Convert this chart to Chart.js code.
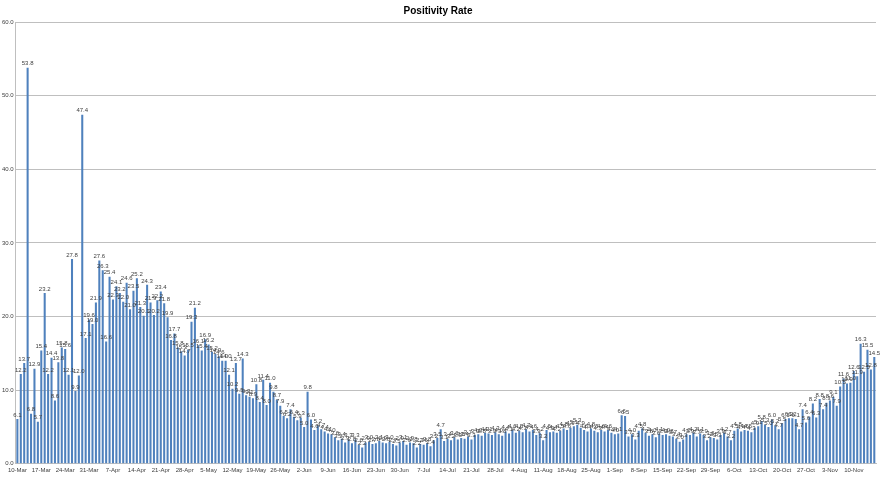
<!DOCTYPE html>
<html>
<head>
<meta charset="utf-8">
<title>Positivity Rate</title>
<script src="https://cdn.jsdelivr.net/npm/chart.js@4/dist/chart.umd.min.js"></script>
<style>
  html, body { margin: 0; padding: 0; background: #fff; }
  #wrap { width: 880px; height: 477px; position: relative; }
</style>
</head>
<body>
<div id="wrap"><canvas id="posChart"></canvas></div>
<script>
// daily positivity rate (%), starting 10-Mar
const startDate = [2020, 2, 10];
const monthNames = ['Jan','Feb','Mar','Apr','May','Jun','Jul','Aug','Sep','Oct','Nov','Dec'];

const marchApril = [6.1, 12.2, 13.7, 53.8, 6.8, 12.9, 5.7, 15.4, 23.2, 12.2, 14.4, 8.6, 13.8, 15.8, 15.6, 12.1, 27.8, 9.9, 12.0, 47.4, 17.1,
  19.6, 19.0, 21.9, 27.6, 26.3, 16.6, 25.4, 22.3, 24.1, 23.2, 22.0, 24.6, 21.0, 23.5, 25.2, 21.3, 20.1, 24.3,
  21.9, 20.2, 22.2, 23.4, 21.8, 19.9, 16.8, 17.7, 15.8, 15.3, 14.7, 15.5, 19.3, 21.2];
const mayJune = [16.1, 15.4, 16.9, 16.2, 15.2, 14.9, 14.6,
  14.0, 14.0, 12.1, 10.2, 13.7, 9.5, 14.3, 9.3, 9.1, 8.9, 10.8, 8.4, 11.4, 8.0, 11.0, 9.8, 8.7, 7.9, 6.5, 6.2, 7.4, 6.4, 5.9, 6.3, 5.0, 9.8,
  6.0, 4.6, 5.2, 4.7, 4.4, 4.1, 4.0, 3.6, 3.2, 3.4, 2.9, 3.3, 2.8, 3.3,
  2.6, 2.2, 2.9, 3.0, 2.7, 2.8, 3.1, 2.9, 2.8, 3.0, 2.7, 2.5, 2.9, 3.1];
const julyAugust = [2.6, 2.9, 2.8, 2.2, 2.7, 2.6, 2.8, 2.4, 3.2, 3.5,
  4.7, 3.1, 3.4, 3.2, 3.6, 3.3, 3.5, 3.4, 3.7, 3.3, 3.9, 4.0, 3.8, 4.2, 4.1, 3.9, 4.3, 4.0, 3.8, 4.4, 4.1, 4.6, 4.2, 4.5, 4.3,
  4.7, 4.4, 4.6, 3.9, 4.2, 3.2, 4.6, 4.3, 4.4, 4.2, 4.5, 4.8, 4.6, 4.9, 5.1, 5.3, 4.9, 4.6, 4.4, 4.8, 4.5, 4.3, 4.6,
  4.4, 4.6, 4.2, 4.0, 4.1];
const septOct = [6.6, 6.5, 3.7, 4.0, 3.3, 4.5, 4.8, 4.2, 3.8, 4.0, 3.6, 4.1, 3.9, 4.0, 3.8,
  3.7, 3.4, 3.0, 3.3, 4.0, 3.9, 4.2, 3.7, 4.1, 3.9, 3.2, 3.6, 3.5, 3.3, 3.9, 4.2, 3.7, 3.2, 4.5,
  4.8, 4.4, 4.6, 4.5, 4.3, 4.9, 5.1, 5.8, 5.3, 5.0, 6.0, 5.2, 4.7, 5.5, 6.1, 6.2, 6.2, 6.1, 4.7, 7.4];
const novemberRise = [5.6, 6.4, 8.2, 6.3, 8.8, 7.4, 8.3, 8.6, 9.1, 7.9, 10.5, 11.6, 10.9, 11.0, 12.6, 11.9, 16.3, 12.5, 15.5, 12.8, 14.5];

const positivity = [].concat(marchApril, mayJune, julyAugust, septOct, novemberRise);

const yTicks = [0, 10, 20, 30, 40, 50, 60];

const days = [];
for (let i = 0; i < positivity.length; i++) {
  const d = new Date(startDate[0], startDate[1], startDate[2] + i);
  days.push(d.getDate() + '-' + monthNames[d.getMonth()]);
}

const barLabels = {
  id: 'barLabels',
  afterDatasetsDraw(chart) {
    const ctx = chart.ctx;
    const meta = chart.getDatasetMeta(0);
    ctx.save();
    ctx.font = '6px "Liberation Sans", Arial, sans-serif';
    ctx.fillStyle = '#404040';
    ctx.textAlign = 'center';
    ctx.textBaseline = 'bottom';
    meta.data.forEach((bar, i) => {
      ctx.fillText(positivity[i].toFixed(1), bar.x, bar.y - 1);
    });
    ctx.restore();
  }
};

const ctx = document.getElementById('posChart').getContext('2d');
new Chart(ctx, {
  type: 'bar',
  data: {
    labels: days,
    datasets: [{
      label: 'Positivity Rate',
      data: positivity,
      backgroundColor: '#4F81BD',
      borderWidth: 0,
      barPercentage: 0.6,
      categoryPercentage: 1.0
    }]
  },
  options: {
    responsive: true,
    maintainAspectRatio: false,
    animation: false,
    layout: { padding: { left: 0, right: 4, top: 1, bottom: 0 } },
    plugins: {
      legend: { display: false },
      tooltip: { enabled: false },
      title: {
        display: true,
        text: 'Positivity Rate',
        color: '#000',
        font: { family: '"Liberation Sans", Arial, sans-serif', size: 10, weight: 'bold' },
        padding: { top: 4, bottom: 5 }
      }
    },
    scales: {
      x: {
        grid: { display: false, drawTicks: false },
        border: { color: '#bfbfbf' },
        ticks: {
          autoSkip: false,
          maxRotation: 0,
          minRotation: 0,
          padding: 3,
          color: '#404040',
          font: { family: '"Liberation Sans", Arial, sans-serif', size: 6 },
          callback: (v, i) => (i % 7 === 0 ? days[i] : '')
        }
      },
      y: {
        min: yTicks[0],
        max: yTicks[yTicks.length - 1],
        grid: { color: '#bfbfbf', drawTicks: false },
        border: { color: '#bfbfbf' },
        afterBuildTicks: axis => { axis.ticks = yTicks.map(v => ({ value: v })); },
        ticks: {
          padding: 2,
          color: '#404040',
          font: { family: '"Liberation Sans", Arial, sans-serif', size: 6 },
          callback: v => v.toFixed(1)
        }
      }
    }
  },
  plugins: [barLabels]
});
</script>
</body>
</html>
